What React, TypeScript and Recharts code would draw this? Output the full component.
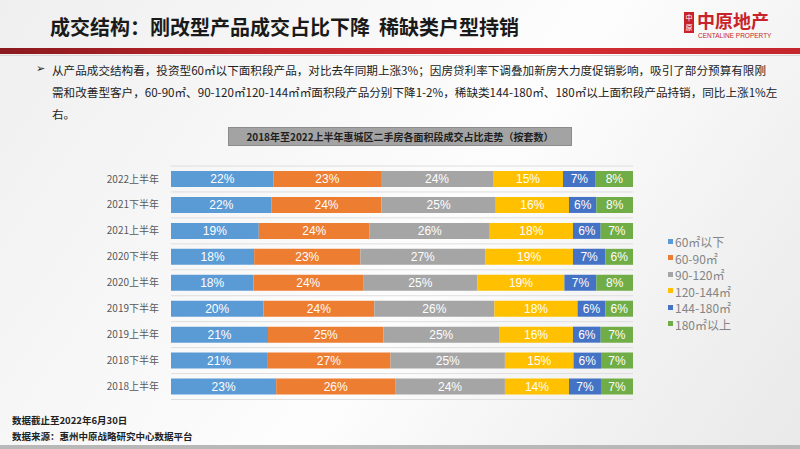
import { BarChart, Bar, XAxis, YAxis, CartesianGrid, Legend, LabelList } from "recharts";

// 面积段
const segments = ["60㎡以下", "60-90㎡", "90-120㎡", "120-144㎡", "144-180㎡", "180㎡以上"];
const segmentColors = ["#5b9bd5", "#ed7d31", "#a5a5a5", "#ffc000", "#4472c4", "#70ad47"];

const periods = [
  "2022上半年", "2021下半年", "2021上半年", "2020下半年", "2020上半年",
  "2019下半年", "2019上半年", "2018下半年", "2018上半年",
];

// 各面积段占比 (%), 与 periods 顺序一致
const below60 = [22, 22, 19, 18, 18, 20, 21, 21, 23];
const s60to90 = [23, 24, 24, 23, 24, 24, 25, 27, 26];
const s90to120 = [24, 25, 26, 27, 25, 26, 25, 25, 24];
const s120to144 = [15, 16, 18, 19, 19, 18, 16, 15, 14];
const s144to180 = [7, 6, 6, 7, 7, 6, 6, 6, 7];
const above180 = [8, 8, 7, 6, 8, 6, 7, 7, 7];

const series = [below60, s60to90, s90to120, s120to144, s144to180, above180];
const keys = ["s0", "s1", "s2", "s3", "s4", "s5"];

const data = periods.map((p, i) => {
  const row: Record<string, string | number> = { period: p };
  series.forEach((s, k) => (row[keys[k]] = s[i]));
  return row;
});

const CJK = '"Noto Sans CJK SC", "Noto Sans", sans-serif';

const bandLines = ({ offset }: any) => {
  const n = periods.length;
  const step = offset.height / n;
  return Array.from({ length: n + 1 }, (_, i) => offset.top + i * step);
};

function LegendBox() {
  return (
    <div style={{ fontFamily: CJK, fontSize: 12, color: "#858585", lineHeight: "16.5px" }}>
      {segments.map((s, i) => (
        <div key={s} style={{ display: "flex", alignItems: "center", whiteSpace: "nowrap" }}>
          <span style={{ width: 5, height: 5, background: segmentColors[i], marginRight: 2, marginTop: -2 }} />
          {s}
        </div>
      ))}
    </div>
  );
}

export default function App() {
  return (
    <div
      style={{
        position: "fixed", left: 0, top: 0, width: 800, height: 449, overflow: "hidden",
        background: "linear-gradient(125deg, #efefef 0%, #f8f8f8 35%, #fdfdfd 55%, #f1f1f1 80%, #e9e9e9 100%)",
        fontFamily: CJK,
      }}
    >
      {/* header */}
      <div style={{ position: "absolute", left: 50, top: 12, fontSize: 20, fontWeight: 700, color: "#1a1a1a", whiteSpace: "nowrap", lineHeight: "30px" }}>
        成交结构：刚改型产品成交占比下降&nbsp;&nbsp;稀缺类户型持销
      </div>
      <div style={{ position: "absolute", left: 684, top: 12, width: 10, height: 21, background: "#c8232a", color: "#fff", fontSize: 7, lineHeight: "10px", textAlign: "center" }}>
        中<br />原
      </div>
      <div style={{ position: "absolute", left: 697, top: 8, fontSize: 18, fontWeight: 700, color: "#c8232a", lineHeight: "24px", whiteSpace: "nowrap" }}>
        中原地产
      </div>
      <div style={{ position: "absolute", left: 698, top: 32, fontSize: 6.5, color: "#c8232a", fontFamily: '"Liberation Sans", sans-serif', whiteSpace: "nowrap" }}>
        CENTALINE PROPERTY
      </div>
      <div style={{ position: "absolute", left: 0, top: 48, width: 800, height: 6, background: "linear-gradient(90deg, #8a1a1e 0%, #c4262c 35%, #d22d33 70%, #c4262c 100%)" }} />
      <div style={{ position: "absolute", left: 0, top: 55, width: 800, height: 1, background: "#d9d9d9" }} />

      {/* bullet text */}
      <div style={{ position: "absolute", left: 36, top: 59, fontSize: 11, color: "#222" }}>➢</div>
      <div style={{ position: "absolute", left: 52, top: 59, fontSize: 11.6, color: "#222", lineHeight: "22px", whiteSpace: "nowrap" }}>
        <div>从产品成交结构看，投资型60㎡以下面积段产品，对比去年同期上涨3%；因房贷利率下调叠加新房大力度促销影响，吸引了部分预算有限刚</div>
        <div>需和改善型客户，60-90㎡、90-120㎡120-144㎡㎡面积段产品分别下降1-2%，稀缺类144-180㎡、180㎡以上面积段产品持销，同比上涨1%左</div>
        <div>右。</div>
      </div>

      {/* chart title */}
      <div style={{ position: "absolute", left: 228, top: 127, width: 344, height: 19, background: "#a3a3a3", border: "1px solid #8c8c8c", boxSizing: "border-box", fontSize: 10, fontWeight: 700, color: "#1f1f1f", lineHeight: "17px", textAlign: "center", whiteSpace: "nowrap" }}>
        2018年至2022上半年惠城区二手房各面积段成交占比走势（按套数）
      </div>

      <div style={{ position: "absolute", left: 0, top: 0 }}>
        <BarChart
          width={800}
          height={449}
          data={data}
          layout="vertical"
          stackOffset="expand"
          barSize={16}
          margin={{ top: 166, right: 167, bottom: 49.5, left: 111 }}
        >
          <CartesianGrid vertical={false} stroke="#dedede" horizontalCoordinatesGenerator={bandLines} />
          <XAxis type="number" hide />
          <YAxis
            type="category"
            dataKey="period"
            width={60}
            interval={0}
            axisLine={false}
            tickLine={false}
            tickSize={0}
            tickMargin={12}
            tick={{ fontSize: 10, fill: "#595959", fontFamily: CJK }}
          />
          <Legend
            layout="vertical"
            align="center"
            verticalAlign="middle"
            content={() => <LegendBox />}
            wrapperStyle={{ position: "absolute", left: 668, top: 234, width: 100 }}
          />
          {keys.map((k, i) => (
            <Bar key={k} dataKey={k} name={segments[i]} stackId="a" fill={segmentColors[i]} isAnimationActive={false}>
              <LabelList
                dataKey={k}
                position="center"
                formatter={(v: any) => `${v}%`}
                fill="#ffffff"
                fontSize={12}
                fontFamily='"Liberation Sans", Arial, sans-serif'
              />
            </Bar>
          ))}
        </BarChart>
      </div>

      {/* footer */}
      <div style={{ position: "absolute", left: 12, top: 412, fontSize: 9.5, fontWeight: 700, color: "#222", lineHeight: "16px", whiteSpace: "nowrap" }}>
        <div>数据截止至2022年6月30日</div>
        <div>数据来源：惠州中原战略研究中心数据平台</div>
      </div>
      <div style={{ position: "absolute", left: 0, top: 445, width: 800, height: 4, background: "#b8b8b8" }} />
    </div>
  );
}
